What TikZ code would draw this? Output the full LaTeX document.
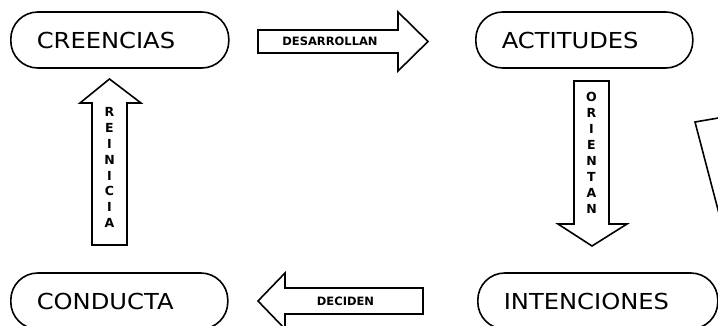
\documentclass[tikz,border=0pt]{standalone}
\usepackage{fontspec}
\usepackage{tikz}
\newfontfamily\diagfont[FakeStretch=1.1]{DejaVu Sans}
\newfontfamily\labelfont{DejaVu Sans}

\begin{document}
\begin{tikzpicture}[x=1pt, y=-1pt, line width=1.6pt, line join=miter,
	pillbox/.style={draw, rounded corners=27pt, minimum height=56pt, inner xsep=26pt, inner ysep=0pt, align=left, anchor=west, font=\diagfont\fontsize{22}{26}\selectfont},
	arrowlabel/.style={inner sep=1pt, font=\labelfont\bfseries\fontsize{11.5}{14}\selectfont},
	vlabel/.style={inner sep=1pt, align=center, font=\labelfont\bfseries\fontsize{12.5}{15.9}\selectfont}]
		\useasboundingbox (0,0) rectangle (718,326);
		\clip (0,0) rectangle (718,326);
		\node [pillbox, text width=166pt] (creencias) at (10,40) {CREENCIAS};
		\node [pillbox, text width=165pt] (actitudes) at (475,40) {ACTITUDES};
		\node [pillbox, text width=165pt] (conducta) at (10,301) {CONDUCTA};
		\node [pillbox, text width=188pt] (intenciones) at (477,301) {INTENCIONES};
		\draw (258,30) -- (398,30) -- (398,12) -- (428,41.5) -- (398,71) -- (398,53) -- (258,53) -- cycle;
		\node [arrowlabel] (desarrollan) at (330,41.5) {DESARROLLAN};
		\draw (574,81) -- (609,81) -- (609,224) -- (627,224) -- (592,246) -- (558,224) -- (574,224) -- cycle;
		\node [vlabel] (orientan) at (591.5,153) {O\\R\\I\\E\\N\\T\\A\\N};
		\draw (423,288) -- (285,288) -- (285,273) -- (258,301) -- (285,329) -- (285,314) -- (423,314) -- cycle;
		\node [arrowlabel] (deciden) at (345.5,301) {DECIDEN};
		\draw (92,245) -- (92,103) -- (80,103) -- (109.5,79) -- (141,103) -- (127,103) -- (127,245) -- cycle;
		\node [vlabel] (reinicia) at (109.5,167.5) {R\\E\\I\\N\\I\\C\\I\\A};
		\draw (730,116) -- (695,122) -- (722,225);
\end{tikzpicture}
\end{document}
